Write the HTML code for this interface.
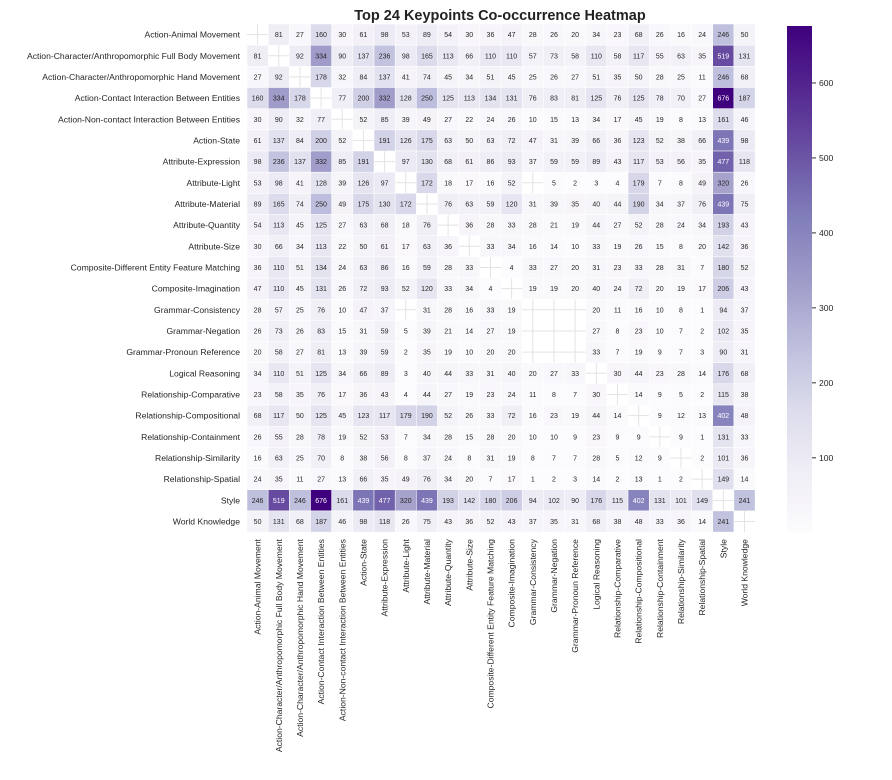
<!DOCTYPE html>
<html><head><meta charset="utf-8">
<style>
html,body{margin:0;padding:0;background:#fff;}
svg{display:block;font-family:"Liberation Sans",Arial,sans-serif;}
</style></head>
<body>
<svg id="chart" width="892" height="780" viewBox="0 0 892 780" xmlns="http://www.w3.org/2000/svg">
<text x="500" y="20" text-anchor="middle" font-size="14.5" font-weight="bold" fill="#222">Top 24 Keypoints Co-occurrence Heatmap</text>
<g id="grid"></g><g id="cells"></g><g id="ylabels"></g><g id="xlabels"></g><g id="cbar"></g>
</svg>
<script>
const categories = ["Action-Animal Movement","Action-Character/Anthropomorphic Full Body Movement","Action-Character/Anthropomorphic Hand Movement","Action-Contact Interaction Between Entities","Action-Non-contact Interaction Between Entities","Action-State","Attribute-Expression","Attribute-Light","Attribute-Material","Attribute-Quantity","Attribute-Size","Composite-Different Entity Feature Matching","Composite-Imagination","Grammar-Consistency","Grammar-Negation","Grammar-Pronoun Reference","Logical Reasoning","Relationship-Comparative","Relationship-Compositional","Relationship-Containment","Relationship-Similarity","Relationship-Spatial","Style","World Knowledge"];
const values = [
[0,81,27,160,30,61,98,53,89,54,30,36,47,28,26,20,34,23,68,26,16,24,246,50],
[81,0,92,334,90,137,236,98,165,113,66,110,110,57,73,58,110,58,117,55,63,35,519,131],
[27,92,0,178,32,84,137,41,74,45,34,51,45,25,26,27,51,35,50,28,25,11,246,68],
[160,334,178,0,77,200,332,128,250,125,113,134,131,76,83,81,125,76,125,78,70,27,676,187],
[30,90,32,77,0,52,85,39,49,27,22,24,26,10,15,13,34,17,45,19,8,13,161,46],
[61,137,84,200,52,0,191,126,175,63,50,63,72,47,31,39,66,36,123,52,38,66,439,98],
[98,236,137,332,85,191,0,97,130,68,61,86,93,37,59,59,89,43,117,53,56,35,477,118],
[53,98,41,128,39,126,97,0,172,18,17,16,52,0,5,2,3,4,179,7,8,49,320,26],
[89,165,74,250,49,175,130,172,0,76,63,59,120,31,39,35,40,44,190,34,37,76,439,75],
[54,113,45,125,27,63,68,18,76,0,36,28,33,28,21,19,44,27,52,28,24,34,193,43],
[30,66,34,113,22,50,61,17,63,36,0,33,34,16,14,10,33,19,26,15,8,20,142,36],
[36,110,51,134,24,63,86,16,59,28,33,0,4,33,27,20,31,23,33,28,31,7,180,52],
[47,110,45,131,26,72,93,52,120,33,34,4,0,19,19,20,40,24,72,20,19,17,206,43],
[28,57,25,76,10,47,37,0,31,28,16,33,19,0,0,0,20,11,16,10,8,1,94,37],
[26,73,26,83,15,31,59,5,39,21,14,27,19,0,0,0,27,8,23,10,7,2,102,35],
[20,58,27,81,13,39,59,2,35,19,10,20,20,0,0,0,33,7,19,9,7,3,90,31],
[34,110,51,125,34,66,89,3,40,44,33,31,40,20,27,33,0,30,44,23,28,14,176,68],
[23,58,35,76,17,36,43,4,44,27,19,23,24,11,8,7,30,0,14,9,5,2,115,38],
[68,117,50,125,45,123,117,179,190,52,26,33,72,16,23,19,44,14,0,9,12,13,402,48],
[26,55,28,78,19,52,53,7,34,28,15,28,20,10,10,9,23,9,9,0,9,1,131,33],
[16,63,25,70,8,38,56,8,37,24,8,31,19,8,7,7,28,5,12,9,0,2,101,36],
[24,35,11,27,13,66,35,49,76,34,20,7,17,1,2,3,14,2,13,1,2,0,149,14],
[246,519,246,676,161,439,477,320,439,193,142,180,206,94,102,90,176,115,402,131,101,149,0,241],
[50,131,68,187,46,98,118,26,75,43,36,52,43,37,35,31,68,38,48,33,36,14,241,0]
];
const cbarTicks = [100,200,300,400,500,600];
const vmin = 1, vmax = 676;

const NS="http://www.w3.org/2000/svg";
const X0=247, Y0=24, CS=21.17, LFS=8.6;
const n=categories.length;
const xPos=i=>X0+i*CS, yPos=i=>Y0+i*CS;
const stops=["#fcfbfd","#efedf5","#dadaeb","#bcbddc","#9e9ac8","#807dba","#6a51a3","#54278f","#3f007d"].map(h=>[parseInt(h.substr(1,2),16),parseInt(h.substr(3,2),16),parseInt(h.substr(5,2),16)]);
function colorRGB(v){let t=(v-vmin)/(vmax-vmin);t=Math.max(0,Math.min(1,t));const p=t*8,i=Math.min(7,Math.floor(p)),f=p-i;return stops[i].map((c,k)=>Math.round(c+(stops[i+1][k]-c)*f));}
function rgb(a){return `rgb(${a[0]},${a[1]},${a[2]})`;}
function lum(a){const l=a.map(c=>{c/=255;return c<=0.03928?c/12.92:Math.pow((c+0.055)/1.055,2.4)});return 0.2126*l[0]+0.7152*l[1]+0.0722*l[2];}
function mk(tag,attrs,parent){const e=document.createElementNS(NS,tag);for(const k in attrs)e.setAttribute(k,attrs[k]);parent.appendChild(e);return e;}

const grid=document.getElementById('grid');
for(let i=0;i<n;i++){
  const c=xPos(i)+CS/2;
  const gl=mk('line',{x1:c,x2:c,y1:Y0,y2:Y0+n*CS,stroke:'#e3e3e3','stroke-width':1},grid);
  
  
  const r=yPos(i)+CS/2;
  const gh=mk('line',{x1:X0,x2:X0+n*CS,y1:r,y2:r,stroke:'#e3e3e3','stroke-width':1},grid);
  
  
}
const cells=document.getElementById('cells');
for(let r=0;r<n;r++)for(let c=0;c<n;c++){
  const v=values[r][c]; if(!v) continue;
  const col=colorRGB(v);
  const rect=mk('rect',{x:xPos(c),y:yPos(r),width:CS,height:CS,fill:rgb(col),stroke:'#fff','stroke-width':0.5},cells);
  
  
  const t=mk('text',{x:xPos(c)+CS/2,y:yPos(r)+CS/2+2.5,'text-anchor':'middle','font-size':7,fill:lum(col)<0.3?'#fff':'#262626'},cells);
  
  
  t.textContent=v;
}
const yl=document.getElementById('ylabels'), xl=document.getElementById('xlabels');
categories.forEach((name,i)=>{
  const t=mk('text',{x:X0-7,y:yPos(i)+CS/2+3,'text-anchor':'end','font-size':LFS,fill:'#262626'},yl);
  
  
  t.textContent=name;
  const cx=xPos(i)+CS/2+3, cy=Y0+n*CS+7;
  const u=mk('text',{x:cx,y:cy,'text-anchor':'end','font-size':LFS,fill:'#262626',transform:`rotate(-90 ${cx} ${cy})`},xl);
  
  
  u.textContent=name;
});
const cb=document.getElementById('cbar');
const CBX=787, CBW=25, CBT=26, CBB=532;
const cbY=v=>CBB-(v-vmin)/(vmax-vmin)*(CBB-CBT);
const defs=mk('defs',{},cb);
const lg=mk('linearGradient',{id:'cg',x1:0,y1:1,x2:0,y2:0},defs);
stops.forEach((s,i)=>mk('stop',{offset:i/8,'stop-color':rgb(s)},lg));
const bar=mk('rect',{x:CBX,y:CBT,width:CBW,height:CBB-CBT,fill:'url(#cg)'},cb);


cbarTicks.forEach(v=>{
  const y=cbY(v);
  const tk=mk('line',{x1:CBX+CBW,x2:CBX+CBW+4,y1:y,y2:y,stroke:'#333','stroke-width':1},cb);
  
  
  const lt=mk('text',{x:CBX+CBW+7,y:y+3,'font-size':LFS,fill:'#262626'},cb);
  
  
  lt.textContent=v;
});
</script>
</body></html>
